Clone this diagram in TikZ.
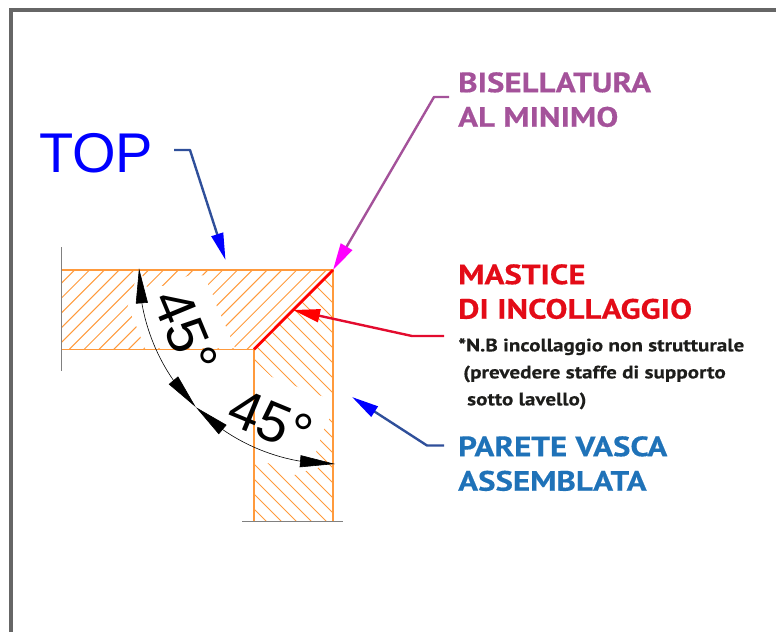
\documentclass[tikz,border=0pt]{standalone}
\usepackage{fontspec}
\setmainfont{PT Sans}[BoldFeatures={FakeStretch=1.175,FakeBold=0.4}]
\newfontfamily\arialfont{Liberation Sans}
\usepackage{xcolor}
\usetikzlibrary{arrows.meta,bending}
\definecolor{wallorange}{HTML}{FF9A3C}
\definecolor{leadblue}{HTML}{2F4F9A}
\definecolor{leadpurple}{HTML}{A4529A}
\definecolor{leadred}{HTML}{E30B2E}
\definecolor{tipmagenta}{HTML}{FF00FF}
\definecolor{labelblue}{HTML}{1F72B8}
\definecolor{labelred}{HTML}{E30B17}
\definecolor{noteblack}{HTML}{1D1D1B}
\tikzset{
    hatchline/.style={draw=wallorange, line width=1pt},
    wallline/.style={draw=wallorange, line width=1.6pt},
    breakline/.style={draw=gray, line width=1pt},
    dimline/.style={draw=black, line width=0.6pt, {Triangle[length=35pt,width=12pt,flex]}-{Triangle[length=35pt,width=12pt,flex]}},
    leader/.style={line width=2.4pt, line join=round},
    maskarea/.style={fill=white, draw=none},
    biglabel/.style={font=\fontsize{28}{34.5}\selectfont\bfseries, align=left, anchor=north west, inner sep=0pt},
    dimtext/.style={font=\arialfont\fontsize{56}{56}\selectfont, inner sep=0pt}
}
\begin{document}
\begin{tikzpicture}[x=1pt, y=1pt]
    \useasboundingbox (0, 0) rectangle (776, -632);
    \draw[draw=black!60, line width=3.2pt] (776, -10) -- (11, -10) -- (11, -632);

    \coordinate (corner) at (333, -270);
    \coordinate (inner) at (254, -349.3);
    \coordinate (topleft) at (61, -270);
    \coordinate (botleft) at (61, -349.3);
    \coordinate (wallleft) at (254, -521.5);
    \coordinate (wallright) at (333, -521.5);

    \begin{scope}
        \clip (topleft) -- (corner) -- (inner) -- (botleft) -- cycle;
        \foreach \c in {0, ..., 18} {
            \draw[hatchline] ({344.7 + 14.8 * \c - 270}, -270) -- ({344.7 + 14.8 * \c - 349.3}, -349.3);
        }
    \end{scope}
    \begin{scope}
        \clip (inner) -- (corner) -- (wallright) -- (wallleft) -- cycle;
        \foreach \c in {0, ..., 22} {
            \draw[hatchline] ({333}, {-(333 - 60 + 15 * \c)}) -- ({233}, {-(233 - 60 + 15 * \c)});
        }
    \end{scope}

    \fill[maskarea] (135, -282) -- (142.3, -275.3) -- (146.7, -287) -- (163.3, -286) -- (187.7, -276) -- (203.3, -275.3) -- (208.3, -285.3) -- (213.3, -296) -- (216.7, -306.3) -- (221.7, -317) -- (235, -348) -- (145, -348) -- (141, -338) -- (136.7, -327) -- (127.7, -306.3) -- cycle;
    \fill[maskarea] (254, -361) -- (271.7, -377) -- (296.7, -386.7) -- (318, -395) -- (334, -400) -- (334, -412) -- (329, -419) -- (324, -429) -- (320, -440) -- (316, -452) -- (318, -468) -- (305, -471) -- (294, -475) -- (268, -463) -- (254, -463) -- cycle;

    \draw[wallline] (topleft) -- (corner) -- (wallright);
    \draw[wallline] (botleft) -- (inner) -- (wallleft);
    \draw[breakline] (61, -247) -- (61, -371);
    \draw[breakline] (242, -521.5) -- (343, -521.5);
    \draw[draw=red, line width=2.8pt] (inner) -- (corner);

    \draw[dimline] ([shift={(179.5:194)}]corner) arc (179.5:225:194);
    \draw[dimline] ([shift={(225:194)}]corner) arc (225:270.6:194);
    \node(dim1) [dimtext, rotate=-67.5] at ([shift={(202.5:160)}]corner) {45°};
    \node(dim2) [dimtext, rotate=-22.5] at ([shift={(247.5:163)}]corner) {45°};

    \node(top) [font=\arialfont\fontsize{56}{56}\selectfont, text=blue, anchor=base west, inner sep=0pt] at (39, -172) {TOP};
    \node(bisel) [biglabel, text=leadpurple] at (458, -72) {BISELLATURA\\AL MINIMO};
    \node(mastice) [biglabel, text=labelred] at (458, -264) {MASTICE\\DI INCOLLAGGIO};
    \node(parete) [biglabel, text=labelblue] at (458, -436) {PARETE VASCA\\ASSEMBLATA};
    \node(note) [font=\fontsize{18}{27}\selectfont\bfseries, text=noteblack, align=left, anchor=north west, inner sep=0pt] at (458, -338) {*N.B incollaggio non strutturale\\\hspace*{5pt}(prevedere staffe di supporto\\\hspace*{9pt}sotto lavello)};

    \coordinate (topstart) at (174, -150);
    \coordinate (topbend) at (190, -150);
    \coordinate (toptip) at (225.5, -260);
    \coordinate (biselstart) at (449, -97);
    \coordinate (biselbend) at (434, -97);
    \coordinate (masticestart) at (444, -336);
    \coordinate (masticebend) at (412, -336);
    \coordinate (masticetip) at (293, -310);
    \coordinate (paretestart) at (444, -445.5);
    \coordinate (paretebend) at (427, -445.5);
    \coordinate (paretetip) at (352, -397);

    \draw[leader, draw=leadblue, -{Triangle[length=27pt,width=12pt,color=blue,fill=blue]}] (topstart) -- (topbend) -- (toptip);
    \draw[leader, draw=leadpurple, -{Triangle[length=27pt,width=13pt,color=tipmagenta,fill=tipmagenta]}] (biselstart) -- (biselbend) -- (corner);
    \draw[leader, draw=leadred, -{Triangle[length=27pt,width=13pt,color=red,fill=red]}] (masticestart) -- (masticebend) -- (masticetip);
    \draw[leader, draw=leadblue, -{Triangle[length=27pt,width=12pt,color=blue,fill=blue]}] (paretestart) -- (paretebend) -- (paretetip);
\end{tikzpicture}
\end{document}
